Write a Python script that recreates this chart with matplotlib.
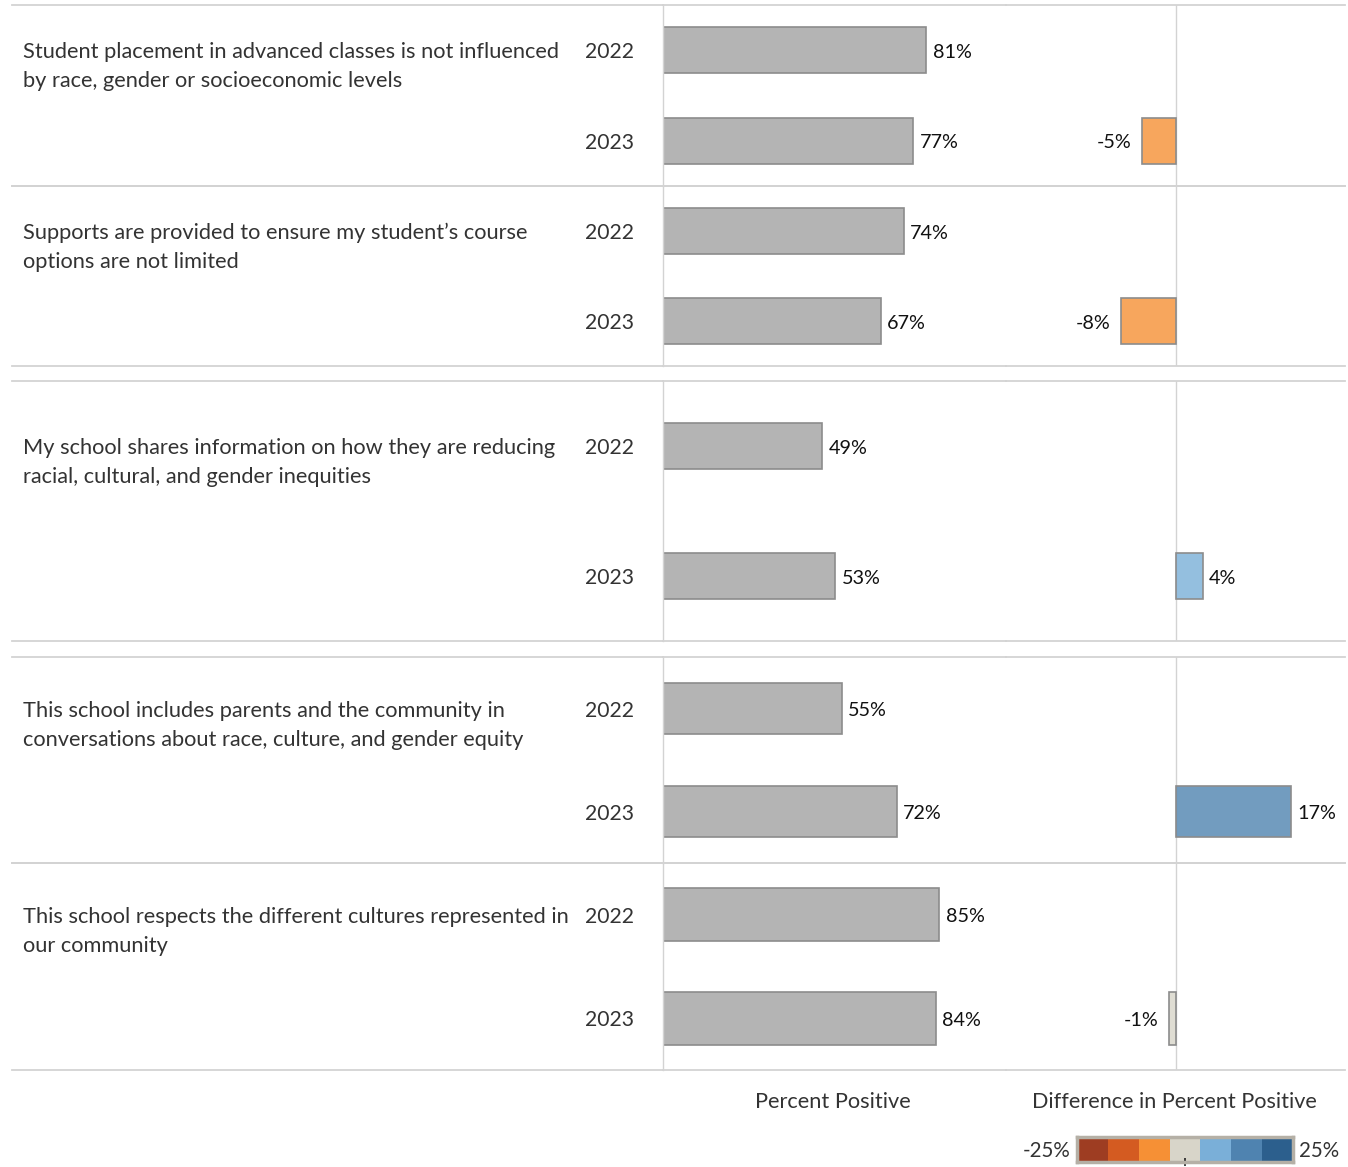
"""
Percent positive by survey item, 2022 vs 2023, with year-over-year difference.
"""

import numpy as np
import matplotlib
matplotlib.use("Agg")
import matplotlib.pyplot as plt
from matplotlib.colors import ListedColormap, BoundaryNorm

# ---- data ----
items = [
    "Student placement in advanced classes is not influenced\nby race, gender or socioeconomic levels",
    "Supports are provided to ensure my student\u2019s course\noptions are not limited",
    "My school shares information on how they are reducing\nracial, cultural, and gender inequities",
    "This school includes parents and the community in\nconversations about race, culture, and gender equity",
    "This school respects the different cultures represented in\nour community",
]
years = ["2022", "2023"]
pct_2022 = [81, 74, 49, 55, 85]
pct_2023 = [77, 67, 53, 72, 84]
diff_2023 = [-5, -8, 4, 17, -1]

diff_colors = ["#9e3d22", "#d45b21", "#f69035", "#d8d5c9", "#7aafd8", "#4f83b0", "#2c5f8d"]
diff_range = (-25, 25)

# ---- layout (pixels) ----
W, H = 1348, 1167
panel_y = [(5, 186), (186, 366), (381, 641), (657, 863), (863, 1070)]
bar_h = [0.51, 0.51, 0.36, 0.50, 0.51]
x_lab, x_pct, x_diff, x_end = 12, 663, 1006, 1345

GRID = "#d3d3d3"
TEXT = "#333333"
VAL = "#111111"
FS_LABEL, FS_YEAR, FS_VAL = 15.7, 15.2, 14.2

plt.rcParams["font.family"] = ["Lato", "DejaVu Sans"]

bounds = np.linspace(diff_range[0], diff_range[1], len(diff_colors) + 1)
cmap = ListedColormap(diff_colors)
norm = BoundaryNorm(bounds, cmap.N)

fig = plt.figure(figsize=(W / 100, H / 100), dpi=100)


def add_ax(x0, x1, y0, y1):
    return fig.add_axes([x0 / W, 1 - y1 / H, (x1 - x0) / W, (y1 - y0) / H])


def style(ax, left=False):
    ax.set_ylim(1.5, -0.5)
    ax.set_xticks([])
    ax.set_yticks([])
    for s in ["left", "right", "top", "bottom"]:
        ax.spines[s].set_visible(False)
    for s in ["top", "bottom"]:
        ax.spines[s].set_visible(True)
        ax.spines[s].set_color(GRID)
        ax.spines[s].set_linewidth(1.3)
    if left:
        ax.spines["left"].set_visible(True)
        ax.spines["left"].set_color(GRID)
        ax.spines["left"].set_linewidth(1.0)
    ax.patch.set_alpha(0)


for i, (y0, y1) in enumerate(panel_y):
    vals = [pct_2022[i], pct_2023[i]]
    rows = np.arange(len(years))

    # label column
    ax_l = add_ax(x_lab, x_pct, y0, y1)
    style(ax_l)
    ax_l.set_xlim(0, 1)
    for j, line in enumerate(items[i].split("\n")):
        ax_l.annotate(line, (0.017, 0), xytext=(0, -1.5 - 20.9 * j), textcoords="offset points",
                      ha="left", va="center", fontsize=FS_LABEL, color=TEXT)
    for r, yr in zip(rows, years):
        ax_l.annotate(yr, (0.955, r), xytext=(0, -1.5), textcoords="offset points",
                      ha="right", va="center", fontsize=FS_YEAR, color=TEXT)

    # percent positive bars
    ax_p = add_ax(x_pct, x_diff, y0, y1)
    style(ax_p, left=True)
    ax_p.set_xlim(0, 105.5)
    ax_p.barh(rows, vals, height=bar_h[i], color="#b4b4b4", edgecolor="#8c8c8c", linewidth=1.2)
    for r, v in zip(rows, vals):
        ax_p.annotate(f"{v}%", (v, r), xytext=(4.5, -1.5), textcoords="offset points",
                      ha="left", va="center", fontsize=FS_VAL, color=VAL)

    # difference bar (2023 row only)
    ax_d = add_ax(x_diff, x_end, y0, y1)
    style(ax_d)
    ax_d.set_xlim(*diff_range)
    ax_d.axvline(0, color=GRID, lw=1.0, zorder=0)
    d = diff_2023[i]
    ax_d.barh([1], [d], height=bar_h[i], color=cmap(norm(d)), alpha=0.8, linewidth=0)
    ax_d.barh([1], [d], height=bar_h[i], color="none", edgecolor="#8c8c8c", linewidth=1.2)
    if d < 0:
        ax_d.annotate(f"{d}%", (d, 1), xytext=(-7.5, -1.5), textcoords="offset points",
                      ha="right", va="center", fontsize=FS_VAL, color=VAL)
    else:
        ax_d.annotate(f"{d}%", (d, 1), xytext=(4.5, -1.5), textcoords="offset points",
                      ha="left", va="center", fontsize=FS_VAL, color=VAL)

# axis titles
fig.text(833 / W, 1 - 1102 / H, "Percent Positive", ha="center", va="center",
         fontsize=15.7, color=TEXT)
fig.text(1174 / W, 1 - 1102 / H, "Difference in Percent Positive", ha="center", va="center",
         fontsize=15.6, color=TEXT)

# stepped colour legend
cax = fig.add_axes([1077 / W, 1 - 1162 / H, 216 / W, 25 / H])
mids = (bounds[:-1] + bounds[1:]) / 2
cax.pcolormesh(bounds, [0, 1], mids[None, :], cmap=cmap, norm=norm,
               edgecolors="none", antialiased=False)
cax.set_xlim(*diff_range)
cax.set_ylim(0, 1)
cax.set_yticks([])
cax.set_xticks([0])
cax.set_xticklabels([""])
cax.tick_params(axis="x", length=6, width=1.2, color="#222222", direction="inout", pad=0)
for s in cax.spines.values():
    s.set_edgecolor("#b5b0a6")
    s.set_linewidth(2.5)
fig.text(1071 / W, 1 - 1151 / H, "-25%", ha="right", va="center", fontsize=14.8, color=TEXT)
fig.text(1299 / W, 1 - 1151 / H, "25%", ha="left", va="center", fontsize=14.8, color=TEXT)

fig.savefig("out.png", dpi=100, facecolor="white")
